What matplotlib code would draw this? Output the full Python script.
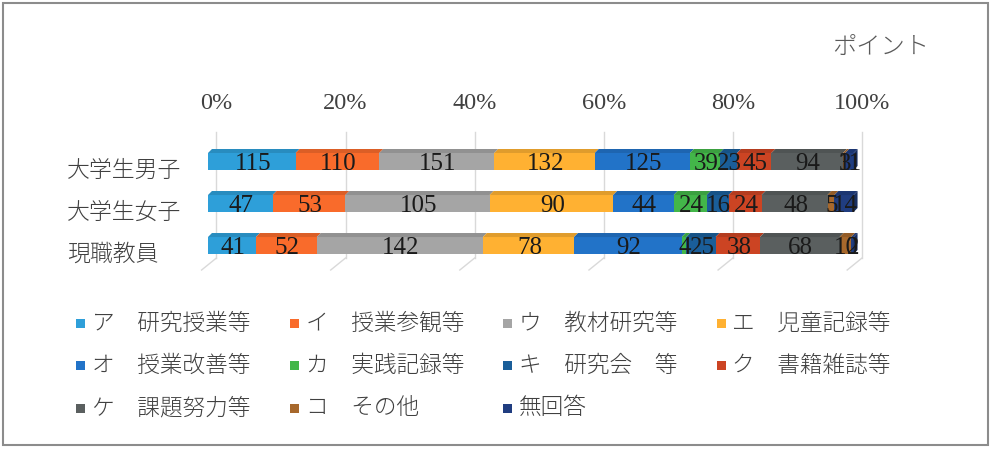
import matplotlib
matplotlib.use("Agg")
import matplotlib.pyplot as plt
from matplotlib.patches import Polygon, Rectangle
from matplotlib.transforms import ScaledTranslation
import matplotlib.colors as mcolors
import numpy as np

plt.rcParams["font.family"] = ["Noto Sans CJK JP", "DejaVu Sans"]

groups = ["大学生男子", "大学生女子", "現職教員"]
series = ["ア　研究授業等", "イ　授業参観等", "ウ　教材研究等", "エ　児童記録等",
          "オ　授業改善等", "カ　実践記録等", "キ　研究会　等", "ク　書籍雑誌等",
          "ケ　課題努力等", "コ　その他", "無回答"]
colors = ["#2E9FD9", "#F96B2B", "#A5A5A5", "#FFB132", "#2273C8", "#43B649",
          "#1A5E99", "#CC4423", "#5A5F5F", "#A7682C", "#203D80"]
# counts per group, in series order
danshi = [115, 110, 151, 132, 125, 39, 23, 45, 94, 3, 11]
joshi = [47, 53, 105, 90, 44, 24, 16, 24, 48, 5, 14]
kyoin = [41, 52, 142, 78, 92, 4, 25, 38, 68, 10, 2]
grid_ticks = [0, 20, 40, 60, 80, 100]
grid_labels = ["0%", "20%", "40%", "60%", "80%", "100%"]

W, H = 998, 462
fig = plt.figure(figsize=(W / 100, H / 100), dpi=100)


def px(x, y):
    return x / W, (H - y) / H


# axes: front face 0%..100% at x 208..862, y 120..275 px
ax = fig.add_axes([208 / W, (H - 275) / H, 654 / W, 155 / H])
ax.set_xlim(0, 100)
ax.set_ylim(2.702, -0.988)
for s in ax.spines.values():
    s.set_visible(False)

ux = 100 / 654  # data units per px (x)
uy = 1 / 42     # data units per px (y)
back = 8.5 * ux

# back-wall gridlines + floor
for g in grid_ticks:
    xb = g + back
    ax.plot([xb, xb], [(132 - 161.5) * uy, (258 - 161.5) * uy],
            color="#d9d9d9", lw=1, zorder=1, clip_on=False)
    ax.plot([xb, xb - 15 * ux], [(258 - 161.5) * uy, (270 - 161.5) * uy],
            color="#d9d9d9", lw=1, zorder=1, clip_on=False)

bh = 17 * uy
dx, dy = 4 * ux, 4 * uy
data = np.array([danshi, joshi, kyoin], dtype=float)
pct = data / data.sum(axis=1, keepdims=True) * 100
lefts = np.cumsum(pct, axis=1) - pct

for j, (name, col) in enumerate(zip(series, colors)):
    ax.barh(range(len(groups)), pct[:, j], left=lefts[:, j], height=bh,
            color=col, edgecolor="none", zorder=2)
    top = tuple(np.array(mcolors.to_rgb(col)) * 0.88)
    for i in range(len(groups)):
        l, w = lefts[i, j], pct[i, j]
        yt = i - bh / 2
        ax.add_patch(Polygon([(l, yt), (l + w, yt), (l + w + dx, yt - dy), (l + dx, yt - dy)],
                             closed=True, facecolor=top, edgecolor="none", zorder=2,
                             clip_on=False))
        if j == len(series) - 1:
            side = tuple(np.array(mcolors.to_rgb(col)) * 0.75)
            ax.add_patch(Polygon([(l + w, yt), (l + w + dx, yt - dy),
                                  (l + w + dx, yt + bh - dy), (l + w, yt + bh)],
                                 closed=True, facecolor=side, edgecolor="none",
                                 zorder=2, clip_on=False))

for j in range(len(series)):
    for i in range(len(groups)):
        ax.text(lefts[i, j] + pct[i, j] / 2 + 1 * ux, i + 0.07, f"{int(data[i, j])}",
                ha="center", va="center", fontsize=18, family="Liberation Serif",
                color="#1a1a1a", zorder=3, clip_on=True)

ax.xaxis.tick_top()
ax.set_xticks([g + back for g in grid_ticks])
ax.set_xticklabels(grid_labels, family="Liberation Serif", fontsize=17.5, color="#404040")
ax.tick_params(axis="x", length=0, pad=4)

ax.set_yticks(range(len(groups)))
ax.set_yticklabels(groups, fontsize=16.5, color="#404040", fontweight="light")
ax.tick_params(axis="y", length=0, pad=101.5)
for lbl in ax.get_yticklabels():
    lbl.set_ha("left")
    lbl.set_transform(lbl.get_transform() + ScaledTranslation(0, -6 / 100, fig.dpi_scale_trans))

# legend, row by row like the original
for k, (name, col) in enumerate(zip(series, colors)):
    r, c = divmod(k, 4)
    x0 = 76 + c * 213.5
    yc = 323 + r * 42.5
    fig.add_artist(Rectangle(px(x0, yc + 4.5), 9 / W, 9 / H, transform=fig.transFigure,
                             facecolor=col, edgecolor="none"))
    fig.text(*px(x0 + 16, yc), name, ha="left", va="center", fontsize=16.3,
             color="#404040", fontweight="light")

fig.text(*px(881, 47), "ポイント", ha="center", va="center", fontsize=17.5,
         color="#595959", fontweight="light")

fig.add_artist(Rectangle(px(3, 445), 985 / W, 442 / H, transform=fig.transFigure,
                         facecolor="none", edgecolor="#8c8c8c", lw=1.5))

fig.savefig("out.png", dpi=100)
